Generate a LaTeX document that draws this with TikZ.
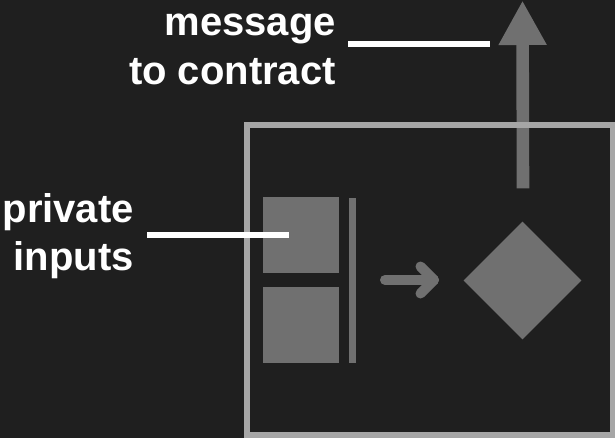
\documentclass[tikz,border=0pt]{standalone}
\usepackage{fontspec}
\setmainfont{Liberation Sans}
\usetikzlibrary{shapes.geometric,arrows.meta}
\definecolor{bgc}{HTML}{1F1F1F}
\definecolor{framec}{HTML}{A6A6A6}
\definecolor{shapec}{HTML}{707070}
\tikzset{
  lbl/.style={anchor=base east, inner sep=0pt, text=white, font=\fontsize{40}{48}\selectfont\bfseries},
  leader/.style={draw=white, line width=6.6pt},
  blockbox/.style={rectangle, fill=shapec, inner sep=0pt, minimum width=76.6pt, minimum height=76pt},
}
\begin{document}
\begin{tikzpicture}[x=1pt,y=-1pt]
\fill[bgc] (0,0) rectangle (615,438);
\useasboundingbox (0,0) rectangle (615,438);
% upward output arrow
\coordinate (upstart) at (523,188.3);
\coordinate (uptip) at (522.5,0.5);
\draw[shapec, line width=12.6pt, -{Triangle[length=44.5pt, width=45pt]}] (upstart) -- (uptip);
% frame
\draw[framec, line width=6pt] (247,125) rectangle (612.5,435);
% inputs
\node[blockbox] (in1) at (301,234.7) {};
\node[blockbox] (in2) at (301,325.3) {};
\fill[shapec] (349.3,198.3) rectangle (355.7,362.7);
% small arrow
\coordinate (sa) at (385,280);
\coordinate (sb) at (434,280);
\draw[shapec, line width=10pt, line cap=round, line join=round] (sa) -- (sb);
\draw[shapec, line width=10pt, line cap=round, line join=round] (420.5,266.5) -- (sb) -- (420.5,293.5);
% diamond
\node[diamond, aspect=1, fill=shapec, inner sep=0pt, minimum width=118pt, minimum height=118pt] (proc) at (522.5,280.5) {};
% labels
\node[lbl] (msg1) at (336,36) {message};
\node[lbl] (msg2) at (336,85) {to contract};
\node[lbl] (pri1) at (134,223) {private};
\node[lbl] (pri2) at (134,270.7) {inputs};
% leader lines
\coordinate (ma) at (348.3,44);
\coordinate (mb) at (490,44);
\draw[leader] (ma) -- (mb);
\coordinate (pa) at (147,235);
\coordinate (pb) at (288.5,235);
\draw[leader] (pa) -- (pb);
\end{tikzpicture}
\end{document}
